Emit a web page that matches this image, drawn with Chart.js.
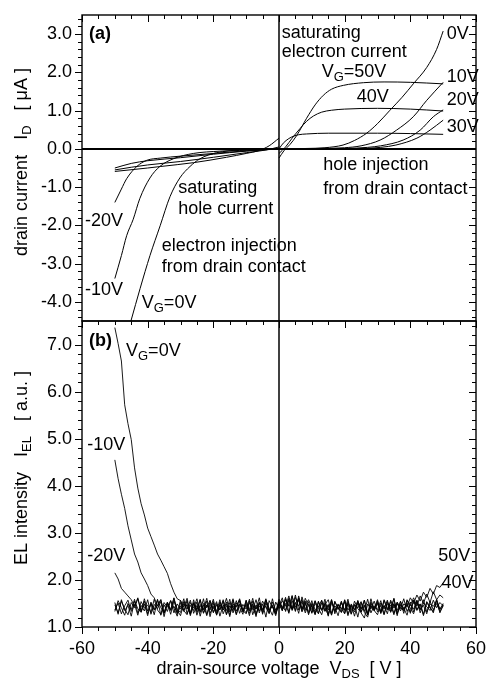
<!DOCTYPE html>
<html>
<head>
<meta charset="utf-8">
<script src="https://cdn.jsdelivr.net/npm/chart.js@4.4.1/dist/chart.umd.min.js"></script>
<style>
  html, body { margin: 0; padding: 0; background: #fff; }
  #wrap { position: relative; width: 488px; height: 679px; }
</style>
</head>
<body>
<div id="wrap"><canvas id="chart"></canvas></div>
<script>
const FONT = '"Liberation Sans", Arial, sans-serif'
const FS = 18

// ---- panel (a): drain current I_D [uA] vs V_DS [V], points as [V_DS, I_D]
const ID_VG0_NEG = [[-45.1, -4.5], [-42.3, -3.65], [-39.3, -2.79], [-36.2, -2.01], [-33.2, -1.25], [-30.2, -0.76], [-27.1, -0.46], [-24.1, -0.26], [-19, -0.1], [-12, -0.04], [-6, -0.02], [0, 0]]
const ID_VGM10 = [[-50, -3.39], [-48, -2.79], [-46.4, -2.27], [-44.4, -1.84], [-42.4, -1.3], [-39.3, -0.76], [-36.3, -0.46], [-32.2, -0.26], [-26.1, -0.12], [-18, -0.06], [-8, -0.02], [0, 0]]
const ID_VGM20 = [[-50, -1.4], [-48, -1.05], [-46.4, -0.78], [-43.3, -0.46], [-40.3, -0.3], [-36, -0.24], [-30, -0.19], [-20, -0.12], [-10, -0.05], [0, 0]]
const ID_VGM30 = [[-50, -0.5], [-45, -0.38], [-40, -0.31], [-30, -0.23], [-20, -0.14], [-10, -0.06], [0, 0]]
const ID_VGM40 = [[-50, -0.55], [-45, -0.48], [-40, -0.42], [-30, -0.33], [-20, -0.22], [-10, -0.1], [-4, -0.03], [0, 0.05]]
const ID_VGM50 = [[-50, -0.59], [-40, -0.5], [-36, -0.46], [-26, -0.36], [-16, -0.22], [-10, -0.12], [-6, -0.04], [-3, 0.08], [0, 0.28]]

const ID_VG0_POS = [[0, 0], [8, 0.01], [14, 0.03], [19.5, 0.1], [23, 0.22], [26.7, 0.41], [30, 0.66], [33.8, 1.01], [37.5, 1.35], [40.9, 1.7], [45, 2.13], [48, 2.6], [50, 3.08]]
const ID_VG10 = [[0, 0], [12, 0.01], [20, 0.03], [25, 0.08], [30.8, 0.23], [35.8, 0.49], [40.9, 0.84], [45, 1.27], [50, 1.74]]
const ID_VG20 = [[0, 0], [20, 0.01], [27, 0.04], [31, 0.08], [37.8, 0.23], [43, 0.49], [47, 0.84], [50, 1.02]]
const ID_VG30 = [[0, 0], [25, 0.01], [31, 0.04], [35.6, 0.1], [42, 0.28], [46, 0.49], [50, 0.75]]
const ID_VG30_SAT = [[0, 0], [1.3, 0.15], [3, 0.27], [4.4, 0.33], [6, 0.37], [8.4, 0.39], [15, 0.41], [30, 0.41], [40, 0.4], [50, 0.38]]
const ID_VG40 = [[0, -0.12], [2, 0.05], [4, 0.28], [6.4, 0.53], [8.4, 0.72], [10.5, 0.86], [13, 0.96], [16, 1.01], [20, 1.04], [30, 1.06], [40, 1.04], [50, 0.99]]
const ID_VG50 = [[0, -0.24], [1.5, -0.05], [3.4, 0.12], [5.4, 0.35], [8.4, 0.8], [11, 1.15], [13.5, 1.4], [16, 1.56], [19.6, 1.66], [25.7, 1.73], [32, 1.75], [40, 1.74], [50, 1.7]]

const ID_CURVES = [ID_VG0_NEG, ID_VGM10, ID_VGM20, ID_VGM30, ID_VGM40, ID_VGM50, ID_VG0_POS, ID_VG10, ID_VG20, ID_VG30, ID_VG30_SAT, ID_VG40, ID_VG50]

// ---- panel (b): EL intensity [a.u.] sampled every 1 V
const VDS_EL = [
  -50, -49, -48, -47, -46, -45, -44, -43, -42, -41,
  -40, -39, -38, -37, -36, -35, -34, -33, -32, -31,
  -30, -29, -28, -27, -26, -25, -24, -23, -22, -21,
  -20, -19, -18, -17, -16, -15, -14, -13, -12, -11,
  -10, -9, -8, -7, -6, -5, -4, -3, -2, -1,
  0, 1, 2, 3, 4, 5, 6, 7, 8, 9,
  10, 11, 12, 13, 14, 15, 16, 17, 18, 19,
  20, 21, 22, 23, 24, 25, 26, 27, 28, 29,
  30, 31, 32, 33, 34, 35, 36, 37, 38, 39,
  40, 41, 42, 43, 44, 45, 46, 47, 48, 49,
  50]

const EL_VG0 = [
  7.36, 7.02, 6.65, 5.72, 5.32, 4.98, 4.38, 3.95, 3.62, 3.38,
  3.10, 2.92, 2.74, 2.55, 2.42, 2.28, 2.14, 1.92, 1.74, 1.60,
  1.56, 1.42, 1.61, 1.30, 1.52, 1.25, 1.48, 1.36, 1.55, 1.22,
  1.50, 1.33, 1.58, 1.28, 1.45, 1.37, 1.60, 1.26, 1.49, 1.34,
  1.57, 1.29, 1.46, 1.38, 1.62, 1.27, 1.51, 1.35, 1.44, 1.24,
  1.53, 1.40, 1.63, 1.31, 1.56, 1.34, 1.66, 1.38, 1.52, 1.29,
  1.47, 1.26, 1.55, 1.36, 1.49, 1.23, 1.58, 1.32, 1.46, 1.39,
  1.28, 1.54, 1.35, 1.47, 1.21, 1.52, 1.33, 1.59, 1.30, 1.45,
  1.37, 1.56, 1.27, 1.50, 1.34, 1.61, 1.29, 1.48, 1.40, 1.25,
  1.53, 1.32, 1.57, 1.38, 1.46, 1.28, 1.55, 1.36, 1.50, 1.33,
  1.45]
const EL_VGM10 = [
  4.55, 4.15, 3.82, 3.52, 3.15, 2.85, 2.55, 2.38, 2.15, 2.02,
  1.88, 1.70, 1.62, 1.45, 1.58, 1.30, 1.52, 1.27, 1.55, 1.36,
  1.24, 1.50, 1.38, 1.57, 1.29, 1.46, 1.33, 1.60, 1.26, 1.48,
  1.39, 1.54, 1.23, 1.47, 1.35, 1.59, 1.30, 1.51, 1.42, 1.27,
  1.56, 1.34, 1.49, 1.22, 1.53, 1.37, 1.45, 1.28, 1.60, 1.31,
  1.47, 1.36, 1.58, 1.44, 1.67, 1.33, 1.62, 1.39, 1.55, 1.26,
  1.50, 1.38, 1.29, 1.56, 1.34, 1.48, 1.25, 1.53, 1.41, 1.31,
  1.57, 1.27, 1.45, 1.36, 1.52, 1.30, 1.19, 1.49, 1.38, 1.55,
  1.32, 1.46, 1.26, 1.54, 1.39, 1.60, 1.28, 1.47, 1.35, 1.51,
  1.29, 1.56, 1.37, 1.49, 1.24, 1.52, 1.40, 1.33, 1.58, 1.30,
  1.46]
const EL_VGM20 = [
  2.15, 2.02, 1.82, 1.74, 1.66, 1.58, 1.44, 1.62, 1.34, 1.55,
  1.28, 1.50, 1.37, 1.59, 1.25, 1.47, 1.33, 1.56, 1.40, 1.23,
  1.52, 1.35, 1.48, 1.27, 1.58, 1.31, 1.45, 1.38, 1.61, 1.29,
  1.44, 1.26, 1.53, 1.36, 1.49, 1.22, 1.57, 1.34, 1.46, 1.39,
  1.30, 1.55, 1.41, 1.25, 1.51, 1.37, 1.60, 1.32, 1.47, 1.28,
  1.54, 1.43, 1.35, 1.61, 1.38, 1.52, 1.29, 1.64, 1.40, 1.33,
  1.56, 1.30, 1.45, 1.37, 1.59, 1.27, 1.50, 1.42, 1.24, 1.53,
  1.35, 1.48, 1.28, 1.55, 1.39, 1.31, 1.57, 1.26, 1.46, 1.36,
  1.52, 1.29, 1.58, 1.41, 1.33, 1.50, 1.24, 1.55, 1.38, 1.47,
  1.32, 1.57, 1.35, 1.49, 1.27, 1.54, 1.43, 1.30, 1.59, 1.37,
  1.48]
const EL_VG10 = [
  1.52, 1.27, 1.58, 1.35, 1.46, 1.23, 1.55, 1.39, 1.31, 1.60,
  1.34, 1.49, 1.26, 1.57, 1.41, 1.30, 1.53, 1.37, 1.62, 1.28,
  1.45, 1.33, 1.56, 1.24, 1.50, 1.38, 1.59, 1.29, 1.47, 1.36,
  1.54, 1.25, 1.48, 1.40, 1.61, 1.32, 1.46, 1.27, 1.55, 1.35,
  1.28, 1.52, 1.37, 1.58, 1.30, 1.49, 1.21, 1.56, 1.42, 1.33,
  1.59, 1.38, 1.50, 1.29, 1.65, 1.42, 1.57, 1.34, 1.61, 1.45,
  1.31, 1.55, 1.40, 1.26, 1.52, 1.36, 1.58, 1.28, 1.47, 1.39,
  1.53, 1.24, 1.49, 1.37, 1.56, 1.32, 1.45, 1.27, 1.60, 1.35,
  1.26, 1.51, 1.38, 1.57, 1.31, 1.48, 1.35, 1.54, 1.29, 1.56,
  1.40, 1.28, 1.53, 1.36, 1.58, 1.32, 1.49, 1.44, 1.55, 1.38,
  1.50]
const EL_VG20 = [
  1.36, 1.51, 1.28, 1.45, 1.57, 1.33, 1.48, 1.25, 1.54, 1.40,
  1.47, 1.31, 1.59, 1.36, 1.27, 1.52, 1.42, 1.56, 1.30, 1.49,
  1.38, 1.60, 1.28, 1.46, 1.35, 1.53, 1.23, 1.50, 1.41, 1.57,
  1.30, 1.47, 1.36, 1.55, 1.26, 1.52, 1.39, 1.44, 1.58, 1.32,
  1.50, 1.37, 1.61, 1.28, 1.45, 1.33, 1.57, 1.40, 1.25, 1.53,
  1.39, 1.56, 1.44, 1.66, 1.35, 1.50, 1.60, 1.32, 1.47, 1.58,
  1.42, 1.27, 1.53, 1.35, 1.48, 1.58, 1.30, 1.45, 1.37, 1.55,
  1.29, 1.50, 1.41, 1.32, 1.56, 1.38, 1.47, 1.25, 1.53, 1.40,
  1.58, 1.31, 1.45, 1.36, 1.54, 1.29, 1.49, 1.39, 1.60, 1.33,
  1.47, 1.38, 1.56, 1.30, 1.51, 1.43, 1.35, 1.57, 1.41, 1.52,
  1.45]
const EL_VG40 = [
  1.33, 1.56, 1.41, 1.25, 1.50, 1.37, 1.59, 1.29, 1.46, 1.34,
  1.58, 1.27, 1.48, 1.39, 1.54, 1.22, 1.51, 1.36, 1.44, 1.30,
  1.57, 1.35, 1.26, 1.52, 1.40, 1.60, 1.31, 1.47, 1.24, 1.55,
  1.32, 1.50, 1.37, 1.58, 1.27, 1.45, 1.35, 1.56, 1.29, 1.48,
  1.38, 1.59, 1.26, 1.47, 1.34, 1.55, 1.41, 1.30, 1.53, 1.36,
  1.45, 1.62, 1.33, 1.57, 1.39, 1.68, 1.36, 1.54, 1.30, 1.48,
  1.37, 1.56, 1.28, 1.51, 1.42, 1.25, 1.55, 1.34, 1.49, 1.31,
  1.58, 1.36, 1.47, 1.23, 1.52, 1.39, 1.57, 1.30, 1.45, 1.34,
  1.50, 1.29, 1.56, 1.38, 1.47, 1.26, 1.53, 1.41, 1.35, 1.58,
  1.46, 1.62, 1.44, 1.66, 1.50, 1.70, 1.52, 1.75, 1.58, 1.68,
  1.62]
const EL_VG50 = [
  1.47, 1.30, 1.55, 1.38, 1.26, 1.52, 1.41, 1.60, 1.32, 1.49,
  1.24, 1.53, 1.36, 1.45, 1.58, 1.29, 1.48, 1.35, 1.61, 1.38,
  1.31, 1.54, 1.43, 1.27, 1.50, 1.35, 1.57, 1.30, 1.46, 1.39,
  1.59, 1.28, 1.47, 1.36, 1.53, 1.25, 1.49, 1.42, 1.60, 1.33,
  1.47, 1.24, 1.55, 1.38, 1.51, 1.30, 1.58, 1.36, 1.44, 1.27,
  1.52, 1.34, 1.60, 1.47, 1.37, 1.63, 1.44, 1.58, 1.35, 1.54,
  1.29, 1.50, 1.42, 1.57, 1.33, 1.46, 1.26, 1.55, 1.38, 1.51,
  1.36, 1.59, 1.27, 1.48, 1.40, 1.54, 1.31, 1.21, 1.50, 1.37,
  1.55, 1.33, 1.46, 1.28, 1.57, 1.40, 1.52, 1.34, 1.49, 1.43,
  1.62, 1.50, 1.68, 1.55, 1.74, 1.63, 1.82, 1.70, 1.88, 1.84,
  1.94]

const EL_CURVES = [EL_VG0, EL_VGM10, EL_VGM20, EL_VG10, EL_VG20, EL_VG40, EL_VG50]

// ---- text labels, placed in data units of their panel
const LABELS_A = [
  { text: "(a)", x: -57.9, y: 3.0, bold: true },
  { text: "saturating", x: 0.8, y: 3.04 },
  { text: "electron current", x: 0.8, y: 2.52 },
  { text: "V_{G}=50V", x: 13.0, y: 2.0 },
  { text: "40V", x: 23.7, y: 1.35 },
  { text: "0V", x: 51.1, y: 2.99 },
  { text: "10V", x: 51.1, y: 1.87 },
  { text: "20V", x: 51.1, y: 1.27 },
  { text: "30V", x: 51.1, y: 0.58 },
  { text: "hole injection", x: 13.5, y: -0.41 },
  { text: "from drain contact", x: 13.5, y: -1.06 },
  { text: "saturating", x: -30.7, y: -1.02 },
  { text: "hole current", x: -30.7, y: -1.57 },
  { text: "electron injection", x: -35.7, y: -2.53 },
  { text: "from drain contact", x: -35.7, y: -3.09 },
  { text: "-20V", x: -59.1, y: -1.88 },
  { text: "-10V", x: -59.1, y: -3.69 },
  { text: "V_{G}=0V", x: -41.8, y: -4.03 },
]
const LABELS_B = [
  { text: "(b)", x: -57.9, y: 7.07, bold: true },
  { text: "V_{G}=0V", x: -46.6, y: 6.86 },
  { text: "-10V", x: -58.4, y: 4.87 },
  { text: "-20V", x: -58.4, y: 2.51 },
  { text: "50V", x: 48.5, y: 2.5 },
  { text: "40V", x: 49.5, y: 1.93 },
]

const X_TITLE = "drain-source voltage  V_{DS}  [ V ]"
const Y_TITLE_A = "drain current   I_{D}   [ \u03bcA ]"
const Y_TITLE_B = "EL intensity   I_{EL}   [ a.u. ]"

// draws text with "_{..}" subscripts, returns width
const drawRich = (ctx, text, x, y, size, { bold = false, align = "left", draw = true } = {}) => {
  const parts = text.split(/_\{([^}]*)\}/)
  if (align === "center") {
    const w = drawRich(ctx, text, 0, 0, size, { bold, draw: false })
    x -= w / 2
  }
  let cx = x
  parts.forEach((p, i) => {
    if (!p) return
    const sub = i % 2 === 1
    const fs = sub ? Math.round(size * 0.72) : size
    ctx.font = `${bold ? "bold " : ""}${fs}px ${FONT}`
    if (draw) ctx.fillText(p, cx, sub ? y + size * 0.3 : y)
    cx += ctx.measureText(p).width
  })
  return cx - x
}

const framePlugin = {
  id: "frame",
  afterDraw(chart) {
    const ctx = chart.ctx
    const xs = chart.scales.x
    const top = chart.scales.yTop
    const bot = chart.scales.yBot
    ctx.save()
    ctx.strokeStyle = "#000"
    ctx.fillStyle = "#000"

    // tick marks: left/bottom outward, top/right inward
    ctx.lineWidth = 1
    ctx.beginPath()
    for (const ys of [top, bot]) {
      const n0 = Math.ceil(ys.min * 5 - 1e-9)
      const n1 = Math.floor(ys.max * 5 + 1e-9)
      for (let n = n0; n <= n1; n++) {
        const py = Math.round(ys.getPixelForValue(n / 5)) + 0.5
        const len = n % 5 === 0 ? 7 : 4
        ctx.moveTo(xs.left - len, py)
        ctx.lineTo(xs.left, py)
        ctx.moveTo(xs.right, py)
        ctx.lineTo(xs.right - len, py)
      }
      for (let v = -60; v <= 60; v += 5) {
        const px = Math.round(xs.getPixelForValue(v)) + 0.5
        const len = v % 20 === 0 ? 7 : 4
        ctx.moveTo(px, ys.top)
        ctx.lineTo(px, ys.top + len)
      }
    }
    for (let v = -60; v <= 60; v += 5) {
      const px = Math.round(xs.getPixelForValue(v)) + 0.5
      const len = v % 20 === 0 ? 7 : 4
      ctx.moveTo(px, bot.bottom)
      ctx.lineTo(px, bot.bottom + len)
    }
    ctx.stroke()

    // panel frames
    ctx.lineWidth = 1.4
    for (const ys of [top, bot]) {
      ctx.strokeRect(xs.left, ys.top, xs.right - xs.left, ys.bottom - ys.top)
    }

    // zero lines
    const x0 = xs.getPixelForValue(0)
    ctx.lineWidth = 1.5
    ctx.beginPath()
    ctx.moveTo(x0, top.top)
    ctx.lineTo(x0, bot.bottom)
    ctx.stroke()
    ctx.lineWidth = 2
    ctx.beginPath()
    const y0 = top.getPixelForValue(0)
    ctx.moveTo(xs.left, y0)
    ctx.lineTo(xs.right, y0)
    ctx.stroke()

    // in-plot labels
    ctx.textBaseline = "middle"
    ctx.textAlign = "left"
    for (const [ys, list] of [[top, LABELS_A], [bot, LABELS_B]]) {
      list.forEach(l => {
        drawRich(ctx, l.text, xs.getPixelForValue(l.x), ys.getPixelForValue(l.y), FS, { bold: l.bold })
      })
    }

    // axis titles
    drawRich(ctx, X_TITLE, xs.getPixelForValue(0), 669, FS, { align: "center" })
    for (const [ys, t] of [[top, Y_TITLE_A], [bot, Y_TITLE_B]]) {
      ctx.save()
      ctx.translate(22, (ys.top + ys.bottom) / 2 - 6)
      ctx.rotate(-Math.PI / 2)
      drawRich(ctx, t, 0, 0, FS, { align: "center" })
      ctx.restore()
    }
    ctx.restore()
  },
}

const tickLabel = v => v.toFixed(1)

const yScale = (min, max) => ({
  type: "linear",
  position: "left",
  stack: "panels",
  stackWeight: 1,
  min: min,
  max: max,
  grid: { display: false, drawTicks: false },
  border: { display: false },
  ticks: {
    autoSkip: false,
    padding: 10,
    color: "#000",
    font: { family: FONT, size: FS },
    callback: tickLabel,
  },
  // one labelled tick per whole unit inside the range
  afterBuildTicks: scale => {
    const ticks = []
    for (let v = Math.ceil(scale.min); v <= Math.floor(scale.max); v++) ticks.push({ value: v })
    scale.ticks = ticks
  },
  afterFit: scale => {
    scale.width = 82
    scale.paddingTop = 0
    scale.paddingBottom = 0
  },
})

const datasets = [
  ...ID_CURVES.map(c => ({
    data: c.map(([x, y]) => ({ x, y })),
    yAxisID: "yTop",
    borderColor: "#000",
    borderWidth: 1,
    pointRadius: 0,
    fill: false,
    cubicInterpolationMode: "monotone",
  })),
  ...EL_CURVES.map(c => ({
    data: c.map((y, i) => ({ x: VDS_EL[i], y })),
    yAxisID: "yBot",
    borderColor: "#000",
    borderWidth: 0.9,
    pointRadius: 0,
    fill: false,
    tension: 0,
  })),
]

new Chart(document.getElementById("chart"), {
  type: "line",
  data: { datasets },
  options: {
    responsive: true,
    maintainAspectRatio: false,
    animation: false,
    layout: { padding: { top: 15, right: 12, left: 0, bottom: 0 } },
    scales: {
      x: {
        type: "linear",
        position: "bottom",
        min: -60,
        max: 60,
        grid: { display: false, drawTicks: false },
        border: { display: false },
        ticks: {
          stepSize: 20,
          autoSkip: false,
          maxRotation: 0,
          padding: 11,
          color: "#000",
          font: { family: FONT, size: FS },
        },
        afterFit: scale => {
          scale.height = 52
          scale.paddingLeft = 0
          scale.paddingRight = 0
        },
      },
      yBot: yScale(1, 7.5),
      yTop: yScale(-4.5, 3.5),
    },
    plugins: {
      legend: { display: false },
      tooltip: { enabled: false },
    },
  },
  plugins: [framePlugin],
})
</script>
</body>
</html>
